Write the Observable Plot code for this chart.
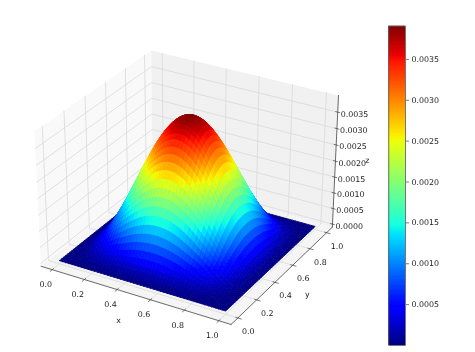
<!DOCTYPE html>
<html>
<head>
<meta charset="utf-8">
<script src="https://cdn.jsdelivr.net/npm/d3@7"></script>
<script src="https://cdn.jsdelivr.net/npm/@observablehq/plot@0.6"></script>
<style>
html,body{margin:0;padding:0;background:#fff}
#chart{position:relative;width:475px;height:352px;overflow:hidden}
#chart svg{filter:blur(0.3px)}
</style>
</head>
<body>
<div id="chart"></div>
<script>
// Axis ticks
const xyTicks = [0, 0.2, 0.4, 0.6, 0.8, 1];
const zTicks = [0, 0.0005, 0.001, 0.0015, 0.002, 0.0025, 0.003, 0.0035];
const barTicks = [0.0005, 0.001, 0.0015, 0.002, 0.0025, 0.003, 0.0035];
const zMax = 0.003906;
const xyLimits = [-0.07, 1.07];
const zLimits = [-0.0001, 0.004];

// Grid step is 1/50. One quadrant of the symmetric surface, upper triangle, units of 1e-6.
const zMicro = [
[0,0,0,0,0,0,0,0,0,0,0,0,0,0,0,0,0,0,0,0,0,0,0,0,0,0],
[0,1,1,2,3,4,6,7,8,10,11,13,14,16,17,18,19,20,21,22,23,23,24,24,24],
[2,5,8,12,16,21,27,32,38,43,49,55,60,65,70,74,78,82,85,88,90,91,92,92],
[10,17,26,35,46,57,69,81,94,106,118,129,140,151,160,169,177,183,189,193,196,198,199],
[29,44,60,79,98,118,139,160,180,201,220,239,256,273,288,301,312,321,329,334,337,339],
[66,90,117,146,176,207,239,269,300,329,357,384,408,430,450,467,481,492,500,505,506],
[124,162,201,243,285,328,371,413,453,492,528,562,592,619,642,662,677,688,695,697],
[210,262,316,371,427,482,537,589,639,686,730,770,805,835,860,880,894,903,906],
[326,394,462,532,601,669,734,797,855,910,959,1003,1040,1072,1097,1115,1125,1129],
[475,558,642,725,806,885,961,1032,1097,1156,1209,1255,1293,1323,1344,1357,1362],
[655,754,852,948,1040,1129,1212,1289,1359,1421,1475,1519,1554,1580,1595,1600],
[867,980,1090,1197,1299,1394,1483,1563,1634,1696,1747,1788,1817,1835,1840],
[1107,1232,1352,1467,1575,1675,1766,1847,1916,1974,2020,2053,2073,2079],
[1370,1505,1633,1753,1864,1965,2055,2132,2197,2247,2284,2306,2314],
[1652,1792,1924,2047,2157,2256,2341,2412,2468,2508,2532,2540],
[1945,2088,2221,2341,2448,2540,2617,2677,2721,2747,2756],
[2242,2384,2514,2628,2727,2810,2875,2922,2950,2959],
[2536,2673,2795,2900,2988,3057,3107,3137,3147],
[2818,2947,3058,3150,3223,3275,3307,3318],
[3081,3197,3294,3370,3425,3458,3469],
[3318,3418,3497,3554,3588,3600],
[3521,3603,3662,3697,3709],
[3686,3746,3782,3795],
[3807,3844,3856],
[3881,3894],
[3906]
];

// matplotlib "jet" breakpoints
const jetStops = [0, 0.11, 0.125, 0.34, 0.35, 0.375, 0.64, 0.65, 0.66, 0.89, 0.91, 1];
const jetColors = ["#000080","#0000ff","#0000ff","#00dbff","#00e5f7","#15ffe2","#eeff08","#f7f500","#ffeb00","#ff1300","#e80000","#800000"];

const N = 50;
const grid = d3.range(N + 1).map(i => i / N);
function zAt(i, j) {
  const a = Math.min(i, N - i), b = Math.min(j, N - j);
  const lo = Math.min(a, b), hi = Math.max(a, b);
  return zMicro[lo][hi - lo] / 1e6;
}

// View: elevation 30, azimuth -60, distance 10, box aspect 4:4:3
const boxXY = 1.1429, boxZ = 0.8572, dist = 10;
const el = 30 * Math.PI / 180, az = -60 * Math.PI / 180;
const nv = [Math.cos(az) * Math.cos(el), Math.sin(az) * Math.cos(el), Math.sin(el)];
const uv = [-Math.sin(az), Math.cos(az), 0];
const vv = [nv[1] * uv[2] - nv[2] * uv[1], nv[2] * uv[0] - nv[0] * uv[2], nv[0] * uv[1] - nv[1] * uv[0]];
const dot = (a, b) => a[0] * b[0] + a[1] * b[1] + a[2] * b[2];
function toBox(x, y, z) {
  return [
    ((x - xyLimits[0]) / (xyLimits[1] - xyLimits[0]) - 0.5) * boxXY,
    ((y - xyLimits[0]) / (xyLimits[1] - xyLimits[0]) - 0.5) * boxXY,
    ((z - zLimits[0]) / (zLimits[1] - zLimits[0]) - 0.5) * boxZ
  ];
}
function project(x, y, z) {
  const q = toBox(x, y, z);
  const w = dist - dot(nv, q);
  return { px: dot(uv, q) / w, py: dot(vv, q) / w, depth: dot(nv, q) };
}

// Surface faces, far ones first
const faces = [];
for (let i = 0; i < N; i++) for (let j = 0; j < N; j++) {
  const corners = [[i, j], [i + 1, j], [i + 1, j + 1], [i, j + 1], [i, j]]
    .map(([a, b]) => project(grid[a], grid[b], zAt(a, b)));
  const value = (zAt(i, j) + zAt(i + 1, j) + zAt(i + 1, j + 1) + zAt(i, j + 1)) / 4;
  faces.push({ corners, value, depth: d3.mean(corners.slice(0, 4), c => c.depth) });
}
faces.sort((a, b) => a.depth - b.depth);
const faceRows = [];
faces.forEach((f, id) => f.corners.forEach(c => faceRows.push({ id, px: c.px, py: c.py, value: f.value })));

const [lo, hi] = xyLimits, [zl, zh] = zLimits;
const poly = (pts) => pts.map(p => project(...p));
const panes = [
  { fill: "#f9f9f9", pts: poly([[lo,lo,zl],[lo,hi,zl],[lo,hi,zh],[lo,lo,zh]]) },
  { fill: "#f1f1f1", pts: poly([[lo,hi,zl],[hi,hi,zl],[hi,hi,zh],[lo,hi,zh]]) },
  { fill: "#f5f5f5", pts: poly([[lo,lo,zl],[hi,lo,zl],[hi,hi,zl],[lo,hi,zl]]) }
];

const gridSegs = [];
xyTicks.forEach(v => {
  gridSegs.push(poly([[v,lo,zl],[v,hi,zl],[v,hi,zh]]));
  gridSegs.push(poly([[lo,v,zh],[lo,v,zl],[hi,v,zl]]));
});
zTicks.forEach(v => gridSegs.push(poly([[lo,lo,v],[lo,hi,v],[hi,hi,v]])));
const toRows = segs => segs.flatMap((s, id) => s.map(p => ({ id, px: p.px, py: p.py })));

const axisSegs = [
  poly([[lo,lo,zl],[hi,lo,zl]]),
  poly([[hi,lo,zl],[hi,hi,zl]]),
  poly([[hi,hi,zl],[hi,hi,zh]])
];
const tickSegs = [
  ...xyTicks.map(v => poly([[v,lo+0.012,zl],[v,lo-0.02,zl]])),
  ...xyTicks.map(v => poly([[hi-0.012,v,zl],[hi+0.02,v,zl]])),
  ...zTicks.map(v => poly([[hi-0.012,hi,v],[hi+0.012,hi,v]]))
];

const colorOpts = { type: "linear", domain: jetStops.map(t => t * zMax), range: jetColors, clamp: true };
const font = { fontFamily: "'DejaVu Sans', sans-serif", fontSize: "7.9px", color: "#222", background: "transparent" };
const lab = (vals, fn) => vals.map(v => ({ ...fn(v), v }));

const chart = d3.select("#chart").node();

const main = Plot.plot({
  width: 475, height: 352, margin: 0,
  x: { domain: [-0.09911, 0.15024], range: [0, 475], axis: null },
  y: { domain: [0.10065, -0.09545], range: [0, 352], axis: null },
  color: colorOpts,
  style: { ...font, position: "absolute", left: "0px", top: "0px" },
  marks: [
    ...panes.map(p => Plot.line(p.pts, { x: "px", y: "py", fill: p.fill, stroke: "none" })),
    Plot.line(toRows(gridSegs), { x: "px", y: "py", z: "id", stroke: "#d9d9d9", strokeWidth: 0.8 }),
    Plot.line(toRows(axisSegs), { x: "px", y: "py", z: "id", stroke: "#444", strokeWidth: 0.8 }),
    Plot.line(toRows(tickSegs), { x: "px", y: "py", z: "id", stroke: "#444", strokeWidth: 0.7 }),
    Plot.line(faceRows, { x: "px", y: "py", z: "id", fill: "value", stroke: "value", strokeWidth: 0.8 }),
    Plot.text(lab(xyTicks, v => project(v, lo, zl)), { x: "px", y: "py", text: d => d.v.toFixed(1), dx: -6.5, dy: 15 }),
    Plot.text(lab(xyTicks, v => project(hi, v, zl)), { x: "px", y: "py", text: d => d.v.toFixed(1), dx: 10.5, dy: 13.5 }),
    Plot.text(lab(zTicks, v => project(hi, hi, v)), { x: "px", y: "py", text: d => d.v.toFixed(4), textAnchor: "start", dx: 3, dy: 2 }),
    Plot.text([project(0.5, lo, zl)], { x: "px", y: "py", text: ["x"], dx: -15, dy: 25.7 }),
    Plot.text([project(hi, 0.5, zl)], { x: "px", y: "py", text: ["y"], dx: 23.5, dy: 20.5 }),
    Plot.text([project(hi, hi, (zl + zh) / 2)], { x: "px", y: "py", text: ["z"], dx: 32, dy: -2 })
  ]
});
chart.appendChild(main);

const levels = d3.range(256).map(i => ({ a: i / 256 * zMax, b: (i + 1.6) / 256 * zMax, v: (i + 0.5) / 256 * zMax }));
const bar = Plot.plot({
  width: 95, height: 352,
  marginLeft: 8.3, marginRight: 70, marginTop: 25.7, marginBottom: 7,
  x: { domain: [0, 1], axis: null },
  y: { domain: [0, zMax], axis: null },
  color: colorOpts,
  style: { ...font, position: "absolute", left: "380px", top: "0px" },
  marks: [
    Plot.rect(levels, { x1: 0, x2: 1, y1: "a", y2: d => Math.min(d.b, zMax), fill: "v" }),
    Plot.frame({ stroke: "#555", strokeWidth: 0.8 }),
    Plot.axisY(barTicks, { anchor: "right", tickSize: 3, tickPadding: 3, tickFormat: d => d.toFixed(4), label: null, stroke: "#444", strokeWidth: 0.7, fill: "#222" })
  ]
});
chart.appendChild(bar);
</script>
</body>
</html>
